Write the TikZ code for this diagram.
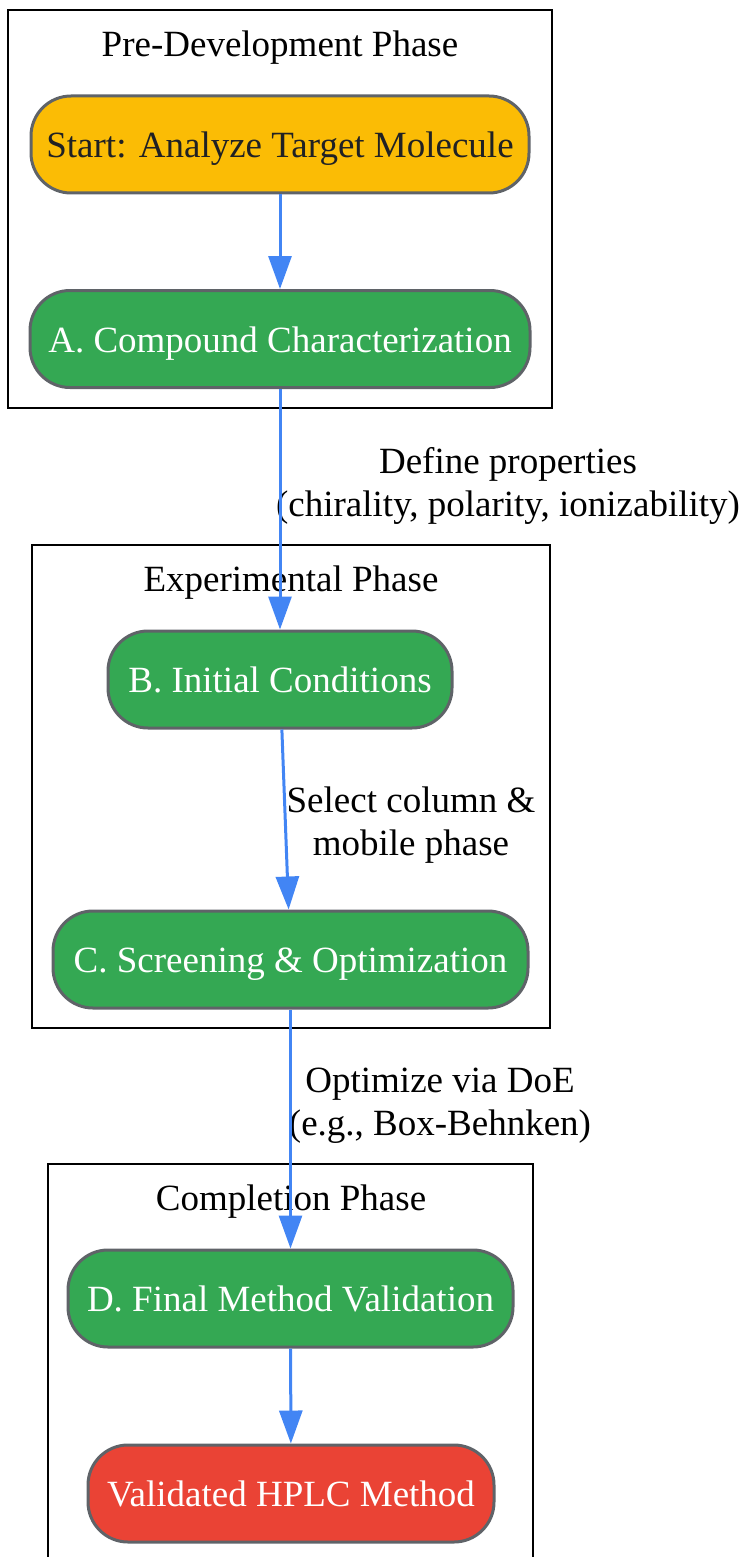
\documentclass[tikz,border=0pt]{standalone}
\usepackage{fontspec}
\setmainfont{Liberation Serif}
\usetikzlibrary{arrows.meta}

\definecolor{startyellow}{HTML}{FBBC05}
\definecolor{stepgreen}{HTML}{34A853}
\definecolor{endred}{HTML}{EA4335}
\definecolor{flowblue}{HTML}{4285F4}
\definecolor{bordergray}{HTML}{5F6368}
\definecolor{darktext}{HTML}{202124}

\begin{document}
\begin{tikzpicture}[x=1pt, y=-1pt,
    stepbox/.style={draw=bordergray, line width=3pt, rounded corners=40pt,
        minimum height=97pt, inner sep=0pt, text=white,
        text height=34pt, text depth=8pt,
        font=\fontsize{37}{43}\selectfont},
    flow/.style={draw=flowblue, line width=3pt, -{Triangle[length=33pt, width=23pt]}},
    cluster/.style={draw=black, line width=2pt},
    lbl/.style={align=center, inner sep=0pt, font=\fontsize{37}{43}\selectfont}]

    % canvas
    \clip (0,0) rectangle (745,1557);

    % Phase boxes
    \draw[cluster] (8,10) rectangle (552,408);
    \node[lbl] (prelbl) at (280,48) {Pre-Development Phase};
    \draw[cluster] (32,545) rectangle (550,1028);
    \node[lbl] (explbl) at (291,583) {Experimental Phase};
    \draw[cluster] (48,1164) rectangle (533,1600);
    \node[lbl] (complbl) at (291,1202) {Completion Phase};

    % Steps
    \node[stepbox, fill=startyellow, text=darktext, minimum width=498pt] (start) at (280,144.5) {Start: Analyze Target Molecule};
    \node[stepbox, fill=stepgreen, minimum width=500pt] (charac) at (280,339) {A. Compound Characterization};
    \node[stepbox, fill=stepgreen, minimum width=344pt] (initcond) at (280,679.5) {B. Initial Conditions};
    \node[stepbox, fill=stepgreen, minimum width=475pt] (screen) at (290.5,959.5) {C. Screening \& Optimization};
    \node[stepbox, fill=stepgreen, minimum width=445pt] (validate) at (290.5,1298.5) {D. Final Method Validation};
    \node[stepbox, fill=endred, minimum width=406pt] (method) at (291,1493.5) {Validated HPLC Method};

    % Edge labels
    \node[lbl] (lblprops) at (508,485.5) {Define properties\\(chirality, polarity, ionizability)};
    \node[lbl] (lblcolumn) at (411,825.5) {Select column \&\\mobile phase};
    \node[lbl] (lbldoe) at (440,1105.5) {Optimize via DoE\\(e.g., Box-Behnken)};

    % Connectors
    \draw[flow] (start) -- (charac);
    \draw[flow] (charac) -- (initcond);
    \draw[flow] (initcond) -- (screen);
    \draw[flow] (screen) -- (validate);
    \draw[flow] (validate) -- (method);
\end{tikzpicture}
\end{document}
